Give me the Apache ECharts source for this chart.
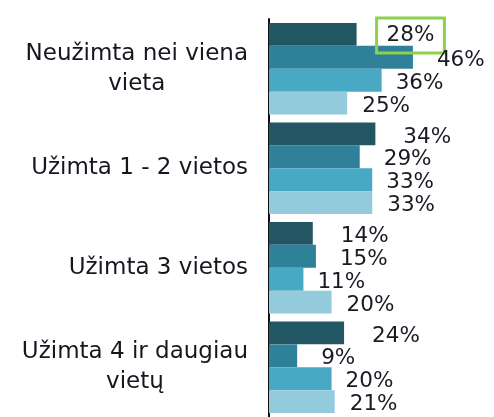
<!DOCTYPE html>
<html>
<head>
<meta charset="utf-8">
<script src="https://cdn.jsdelivr.net/npm/echarts@6/dist/echarts.min.js"></script>
<style>
html,body{margin:0;padding:0;background:#fff;}
#chart{width:494px;height:417px;}
</style>
</head>
<body>
<div id="chart"></div>
<script>
const categories = [
  ["Neužimta nei viena", "vieta"],
  ["Užimta 1 - 2 vietos"],
  ["Užimta 3 vietos"],
  ["Užimta 4 ir daugiau", "vietų"]
];
const series1 = [28, 34, 14, 24];
const series2 = [46, 29, 15, 9];
const series3 = [36, 33, 11, 20];
const series4 = [25, 33, 20, 21];

const colors = ['#235663', '#2f8099', '#49a9c4', '#93cbdc'];
const distances = [28, 24, 14, 15];
const valueFont = {fontFamily: 'DejaVu Sans', fontSize: 21.5, color: '#1a1a24'};

function mkSeries(values, idx) {
  const data = values.map(function (v, i) {
    if (idx === 0 && i === 0) {
      return {
        value: v,
        label: {
          distance: 20,
          offset: [0, 1],
          padding: [7, 10, 6, 10],
          borderColor: '#8dd14d',
          borderWidth: 3
        }
      };
    }
    return v;
  });
  return {
    type: 'bar',
    data: data,
    barGap: '0%',
    barCategoryGap: '8%',
    itemStyle: {color: colors[idx]},
    label: Object.assign({
      show: true,
      position: 'right',
      distance: distances[idx],
      offset: [0, 3],
      formatter: '{c}%'
    }, valueFont),
    emphasis: {disabled: true},
    animation: false
  };
}

const chart = echarts.init(document.getElementById('chart'));
chart.setOption({
  animation: false,
  grid: {left: 269, top: 19, width: 219, height: 404},
  xAxis: {
    type: 'value', min: 0, max: 70,
    show: false, splitLine: {show: false}
  },
  yAxis: {
    type: 'category',
    inverse: true,
    data: categories.map(function (c) { return c.join('\n'); }),
    axisLine: {show: true, lineStyle: {color: '#111', width: 2}},
    axisTick: {show: false},
    axisLabel: {
      margin: 21,
      align: 'right',
      formatter: function (v) {
        return v.split('\n').map(function (l) { return '{c|' + l + '}'; }).join('\n');
      },
      rich: {
        c: {
          align: 'center',
          fontFamily: 'DejaVu Sans',
          fontSize: 23,
          lineHeight: 30,
          color: '#16161f'
        }
      }
    }
  },
  series: [mkSeries(series1, 0), mkSeries(series2, 1), mkSeries(series3, 2), mkSeries(series4, 3)]
});
</script>
</body>
</html>
